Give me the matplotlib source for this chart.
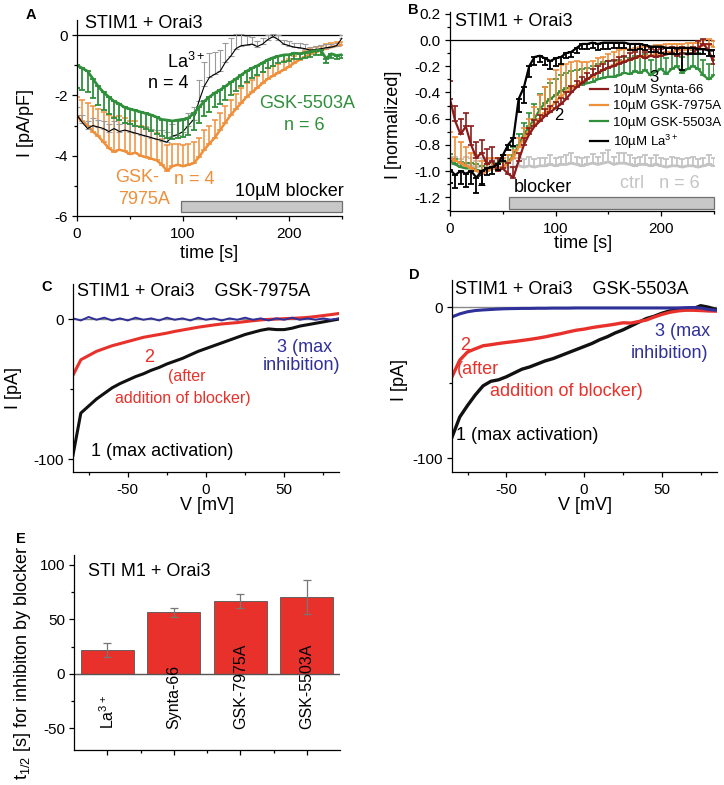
import matplotlib
matplotlib.use('Agg')
import matplotlib.pyplot as plt
from matplotlib.patches import Rectangle
from matplotlib.transforms import Affine2D
from matplotlib.ticker import MultipleLocator

plt.rcParams['font.family'] = ['Liberation Sans', 'DejaVu Sans']
plt.rcParams['mathtext.default'] = 'regular'
plt.rcParams['axes.unicode_minus'] = False

# ---------------- data ----------------
# Panel A : time course (pA/pF), 5 s sampling
time_A = list(range(0, 255, 5))
gsk5503_A = [-1.0, -1.1, -1.2, -1.45, -1.7, -1.9, -2.05, -2.2, -2.28, -2.4,
             -2.45, -2.5, -2.55, -2.6, -2.65, -2.72, -2.8, -2.82, -2.85, -2.82,
             -2.8, -2.75, -2.6, -2.4, -2.2, -2.05, -1.92, -1.82, -1.7, -1.57,
             -1.45, -1.32, -1.2, -1.1, -1.02, -0.92, -0.82, -0.75, -0.7, -0.66,
             -0.65, -0.6, -0.62, -0.58, -0.56, -0.52, -0.5, -0.78, -0.62, -0.68,
             -0.65]
gsk5503_A_err = [0.75, 0.72, 0.7, 0.65, 0.62, 0.6, 0.58, 0.55, 0.55, 0.52,
                 0.5, 0.5, 0.5, 0.5, 0.52, 0.55, 0.55, 0.58, 0.6, 0.6,
                 0.58, 0.55, 0.55, 0.52, 0.5, 0.5, 0.48, 0.46, 0.44, 0.42,
                 0.4, 0.38, 0.36, 0.34, 0.32, 0.3, 0.28, 0.26, 0.24, 0.22,
                 0.2, 0.2, 0.18, 0.18, 0.16, 0.15, 0.15, 0.14, 0.13, 0.12,
                 0.12]
gsk7975_A = [-2.7, -2.85, -3.0, -3.2, -3.35, -3.55, -3.75, -3.87, -3.8, -3.85,
             -3.95, -3.9, -4.0, -4.05, -4.1, -4.15, -4.3, -4.5, -4.35, -4.3,
             -4.35, -4.3, -4.25, -4.05, -3.8, -3.6, -3.4, -3.15, -2.9, -2.65,
             -2.45, -2.25, -2.05, -1.9, -1.75, -1.6, -1.45, -1.35, -1.25, -1.15,
             -1.05, -0.92, -0.82, -0.72, -0.63, -0.56, -0.5, -0.45, -0.4, -0.36,
             -0.34]
gsk7975_A_err = [0.65, 0.7, 0.75, 0.85, 0.9, 1.0, 1.1, 1.15, 1.1, 1.1,
                 1.1, 1.05, 1.0, 1.0, 0.95, 0.9, 0.85, 0.85, 0.75, 0.7,
                 0.7, 0.7, 0.7, 0.65, 0.65, 0.6, 0.6, 0.55, 0.55, 0.5,
                 0.5, 0.48, 0.45, 0.42, 0.4, 0.38, 0.35, 0.32, 0.3, 0.28,
                 0.26, 0.24, 0.22, 0.2, 0.18, 0.16, 0.15, 0.14, 0.13, 0.12,
                 0.12]
la_A = [-2.65, -2.9, -3.1, -3.0, -3.05, -3.1, -3.2, -3.1, -3.2, -3.15,
        -3.2, -3.25, -3.3, -3.35, -3.4, -3.45, -3.5, -3.55, -3.35, -3.3,
        -3.2, -3.0, -2.8, -2.2, -1.7, -1.4, -1.3, -1.2, -0.9, -0.7,
        -0.45, -0.35, -0.33, -0.3, -0.38, -0.3, -0.15, -0.05, -0.15, -0.3,
        -0.35, -0.4, -0.42, -0.45, -0.5, -0.48, -0.45, -0.42, -0.4, -0.35,
        -0.1]
la_A_err = [0.25, 0.25, 0.25, 0.25, 0.25, 0.25, 0.25, 0.25, 0.25, 0.25,
            0.25, 0.25, 0.3, 0.3, 0.3, 0.3, 0.35, 0.35, 0.4, 0.45,
            0.45, 0.4, 0.4, 0.7, 0.8, 0.8, 0.75, 0.7, 0.65, 0.6,
            0.5, 0.4, 0.3, 0.25, 0.2, 0.2, 0.15, 0.1, 0.15, 0.15,
            0.15, 0.15, 0.15, 0.15, 0.12, 0.12, 0.12, 0.12, 0.1, 0.1,
            0.1]
blocker_A = (98, 250)

# Panel B : normalized time course
time_B = list(range(0, 255, 5))
synta_B = [-0.45, -0.62, -0.72, -0.66, -0.8, -0.9, -0.86, -0.95, -0.92, -1.0,
           -0.98, -1.02, -1.05, -0.92, -0.8, -0.72, -0.66, -0.62, -0.58, -0.55,
           -0.52, -0.49, -0.45, -0.4, -0.36, -0.33, -0.3, -0.27, -0.25, -0.23,
           -0.21, -0.2, -0.18, -0.17, -0.15, -0.14, -0.12, -0.14, -0.12, -0.13,
           -0.12, -0.11, -0.1, -0.12, -0.1, -0.11, -0.1, -0.06, -0.03, -0.08,
           -0.18]
synta_B_err = [0.14, 0.12, 0.12, 0.1, 0.14, 0.12, 0.1, 0.12, 0.1, 0.1,
               0.1, 0.08, 0.08, 0.06, 0.05, 0.05, 0.05, 0.05, 0.05, 0.05,
               0.05, 0.05, 0.05, 0.05, 0.05, 0.05, 0.05, 0.05, 0.05, 0.05,
               0.05, 0.05, 0.05, 0.05, 0.05, 0.05, 0.05, 0.05, 0.05, 0.05,
               0.05, 0.05, 0.05, 0.05, 0.05, 0.05, 0.05, 0.05, 0.04, 0.05,
               0.05]
gsk7975_B = [-0.9, -0.92, -0.94, -0.96, -0.98, -1.0, -1.02, -1.0, -0.98, -0.98,
             -0.97, -0.94, -0.9, -0.82, -0.75, -0.7, -0.65, -0.6, -0.56, -0.52,
             -0.47, -0.43, -0.4, -0.37, -0.34, -0.32, -0.3, -0.28, -0.25, -0.23,
             -0.21, -0.19, -0.17, -0.16, -0.15, -0.14, -0.13, -0.12, -0.12, -0.11,
             -0.1, -0.09, -0.09, -0.08, -0.08, -0.07, -0.07, -0.06, -0.04, -0.03,
             -0.05]
gsk7975_B_err = [0.2, 0.18, 0.16, 0.14, 0.12, 0.12, 0.1, 0.1, 0.08, 0.08,
                 0.07, 0.06, 0.06, 0.07, 0.08, 0.1, 0.14, 0.18, 0.2, 0.22,
                 0.24, 0.24, 0.22, 0.2, 0.18, 0.15, 0.13, 0.12, 0.11, 0.1,
                 0.1, 0.1, 0.09, 0.09, 0.08, 0.08, 0.08, 0.07, 0.07, 0.07,
                 0.06, 0.06, 0.06, 0.05, 0.05, 0.05, 0.05, 0.04, 0.04, 0.04,
                 0.04]
gsk5503_B = [-0.92, -0.95, -0.97, -0.98, -0.98, -0.99, -1.0, -0.99, -0.98, -0.98,
             -0.97, -0.93, -0.88, -0.8, -0.72, -0.66, -0.6, -0.53, -0.48, -0.45,
             -0.42, -0.39, -0.37, -0.36, -0.35, -0.34, -0.33, -0.32, -0.3, -0.29,
             -0.28, -0.28, -0.27, -0.25, -0.26, -0.24, -0.25, -0.23, -0.27, -0.24,
             -0.22, -0.26, -0.22, -0.2, -0.25, -0.22, -0.2, -0.22, -0.27, -0.3,
             -0.27]
gsk5503_B_err = [0.05, 0.04, 0.04, 0.04, 0.04, 0.04, 0.04, 0.04, 0.04, 0.04,
                 0.04, 0.05, 0.06, 0.08, 0.09, 0.1, 0.11, 0.12, 0.12, 0.12,
                 0.12, 0.12, 0.12, 0.12, 0.12, 0.12, 0.12, 0.12, 0.12, 0.12,
                 0.12, 0.12, 0.12, 0.12, 0.12, 0.12, 0.12, 0.12, 0.12, 0.12,
                 0.12, 0.12, 0.12, 0.12, 0.12, 0.12, 0.12, 0.12, 0.12, 0.12,
                 0.12]
la_B = [-0.99, -1.03, -1.0, -1.02, -1.0, -1.05, -1.0, -0.98, -0.97, -0.95,
        -0.88, -0.8, -0.75, -0.45, -0.36, -0.2, -0.13, -0.12, -0.14, -0.16,
        -0.14, -0.13, -0.1, -0.09, -0.06, -0.03, -0.03, -0.02, -0.03, -0.02,
        -0.02, -0.02, -0.02, -0.02, -0.03, -0.03, -0.03, -0.04, -0.05, -0.05,
        -0.05, -0.06, -0.06, -0.06, -0.06, -0.06, -0.06, -0.07, -0.07, -0.08,
        -0.08]
la_B_err = [0.1, 0.1, 0.1, 0.1, 0.1, 0.12, 0.1, 0.05, 0.05, 0.04,
            0.04, 0.04, 0.06, 0.1, 0.12, 0.08, 0.06, 0.05, 0.05, 0.06,
            0.06, 0.05, 0.04, 0.04, 0.04, 0.04, 0.04, 0.04, 0.05, 0.05,
            0.05, 0.04, 0.04, 0.04, 0.05, 0.05, 0.04, 0.04, 0.04, 0.04,
            0.05, 0.05, 0.05, 0.05, 0.17, 0.05, 0.05, 0.04, 0.04, 0.04,
            0.04]
ctrl_B = [-0.94, -0.95, -0.96, -0.95, -0.96, -0.97, -0.96, -0.97, -0.96, -0.97,
          -0.97, -0.97, -0.97, -0.96, -0.97, -0.96, -0.97, -0.96, -0.96, -0.95,
          -0.96, -0.95, -0.95, -0.94, -0.95, -0.96, -0.95, -0.94, -0.95, -0.94,
          -0.93, -0.95, -0.94, -0.94, -0.95, -0.96, -0.95, -0.95, -0.96, -0.95,
          -0.96, -0.97, -0.96, -0.96, -0.97, -0.96, -0.96, -0.97, -0.96, -0.95,
          -0.96]
ctrl_B_err = [0.05, 0.06, 0.05, 0.06, 0.06, 0.05, 0.06, 0.06, 0.05, 0.06,
              0.06, 0.05, 0.06, 0.06, 0.06, 0.07, 0.06, 0.06, 0.06, 0.07,
              0.06, 0.06, 0.07, 0.08, 0.06, 0.06, 0.06, 0.07, 0.06, 0.08,
              0.09, 0.06, 0.08, 0.08, 0.07, 0.06, 0.06, 0.07, 0.06, 0.07,
              0.06, 0.06, 0.07, 0.06, 0.06, 0.06, 0.07, 0.06, 0.06, 0.07,
              0.06]
blocker_B = (56, 250)

# Panels C, D : I-V curves (pA), 5 mV steps
voltage = list(range(-85, 90, 5))
C_max_act = [-97, -67, -62, -57, -53, -49, -46, -43.5, -41, -39,
             -36.5, -34.5, -32, -30, -28, -25.5, -23, -21, -19, -17,
             -15, -13, -11, -9.5, -8, -7, -7.5, -7.5, -6.5, -5,
             -4, -3, -2, -1, 0]
C_after = [-40, -29, -26, -23, -21, -19, -17.5, -16, -14.5, -13,
           -12, -11, -10, -8.8, -7.8, -6.8, -5.8, -5, -4.2, -3.5,
           -3, -2.5, -1.8, -1.2, -0.6, -0.2, 0, 0.3, 0.5, 0.8,
           1.2, 1.8, 2.5, 3.2, 4]
C_max_inh = [0.5, -1, 1.5, -0.5, 1, -1, 0.5, -1, 1, -0.5,
             0.5, -1, 1, -0.5, 0.5, -1, 1, -0.5, 0.5, -1,
             0.5, -0.5, 1, -0.5, 0.5, -1, 0.5, -0.5, 1, -0.5,
             0.5, -0.5, 0.5, -0.5, 0.5]
D_max_act = [-86, -72.6, -65, -58, -52, -49, -48, -46, -43.5, -41,
             -39.5, -37.5, -35.5, -34, -32, -30, -28, -26, -24, -21.5,
             -19.5, -17, -15, -12.5, -10, -7.5, -6, -4, -2.5, -2,
             -1.5, -1, 1, 0, -1.5]
D_after = [-46, -35, -29.6, -27.5, -25.5, -24.8, -24, -23.3, -22.7, -22,
           -21.3, -20.5, -19.6, -18.5, -17.5, -16.3, -15.2, -14.5, -13.5, -12.7,
           -12, -11.2, -10.3, -10.5, -9.5, -8.5, -6.5, -4.8, -3.4, -2.5,
           -2, -2, -2.2, -2.5, -2.6]
D_max_inh = [-6.4, -4.4, -3, -2.2, -1.8, -1.5, -1.2, -1, -0.9, -0.8,
             -0.8, -0.7, -0.7, -0.6, -0.6, -0.6, -0.5, -0.5, -0.5, -0.5,
             -0.5, -0.5, -0.5, -0.5, -0.5, -0.5, -0.5, -0.5, -0.5, -0.5,
             -0.3, -0.2, -0.5, -1.5, -2]

# Panel E : t1/2 bar chart
E_labels = ['La$^{3+}$', 'Synta-66', 'GSK-7975A', 'GSK-5503A']
E_values = [21.5, 56.5, 67, 70.5]
E_errors = [6.5, 4, 6.5, 16]

# ---------------- colours ----------------
GREEN = '#2f8f3b'
ORANGE = '#ef8f3a'
DARKRED = '#8c1c1c'
LGRAY = '#c4c4c4'
RED = '#e8312a'
BLUE = '#30309a'

# ---------------- figure ----------------
W, H = 724, 785
fig = plt.figure(figsize=(W / 100, H / 100), dpi=100)
pix = Affine2D().scale(1 / W, -1 / H).translate(0, 1) + fig.transFigure


def axes_px(l, t, r, b):
    return fig.add_axes([l / W, 1 - b / H, (r - l) / W, (b - t) / H])


def txt(x, y, s, size=13, color='black', ha='left', va='center', **kw):
    fig.text(x, y, s, transform=pix, fontsize=size, color=color, ha=ha, va=va, **kw)


def style(ax):
    for s in ['top', 'right']:
        ax.spines[s].set_visible(False)
    for s in ['left', 'bottom']:
        ax.spines[s].set_linewidth(0.9)
    ax.tick_params(which='both', direction='out', labelsize=11, width=0.9)
    ax.tick_params(which='major', length=3.5, pad=3)
    ax.tick_params(which='minor', length=2)
    ax.tick_params(axis='x', which='major', pad=4.5)


def ebar(ax, x, y, err, color, up=True, lw=1.0, cap=2.3):
    zeros = [0] * len(err)
    yerr = [zeros, err] if up else [err, zeros]
    ax.errorbar(x, y, yerr=yerr, fmt='none', ecolor=color, elinewidth=lw,
                capsize=cap, capthick=lw)


# ---------- Panel A ----------
axA = axes_px(77, 20, 342, 216)
style(axA)
axA.set_xlim(0, 250)
axA.set_ylim(-6, 0.5)
axA.xaxis.set_major_locator(MultipleLocator(100))
axA.xaxis.set_minor_locator(MultipleLocator(50))
axA.yaxis.set_major_locator(MultipleLocator(2))
axA.yaxis.set_minor_locator(MultipleLocator(1))
axA.axhline(0, color='black', lw=0.9)
ebar(axA, time_A, gsk7975_A, gsk7975_A_err, ORANGE, up=True, lw=1.1)
axA.plot(time_A, gsk7975_A, color=ORANGE, lw=1.8)
ebar(axA, time_A, la_A, la_A_err, '#9a9a9a', up=True, lw=0.8)
axA.plot(time_A, la_A, color='black', lw=0.8)
ebar(axA, time_A, gsk5503_A, gsk5503_A_err, GREEN, up=False, lw=1.3)
axA.plot(time_A, gsk5503_A, color=GREEN, lw=2.0)
axA.add_patch(Rectangle((blocker_A[0], -5.87), blocker_A[1] - blocker_A[0], 0.37,
                        facecolor='#c8c8c8', edgecolor='#707070', lw=0.9, clip_on=False))

txt(26, 15, 'A', size=10.5, weight='bold')
txt(85, 23, 'STIM1 + Orai3')
txt(167, 68, 'La$^{3+}$', va='baseline')
txt(168, 84, 'n = 4', ha='center')
txt(307, 103, 'GSK-5503A', color=GREEN, ha='center')
txt(304, 125, 'n = 6', color=GREEN, ha='center')
txt(115, 178, 'GSK-', color=ORANGE)
txt(118, 200, '7975A', color=ORANGE)
txt(194, 180, 'n = 4', color=ORANGE, ha='center')
txt(289, 191, '10µM blocker', ha='center')
txt(25, 123, 'I [pA/pF]', rotation=90, ha='center')
txt(209, 254, 'time [s]', ha='center')

# ---------- Panel B ----------
axB = axes_px(450, 12.5, 714, 211)
style(axB)
axB.set_xlim(0, 250)
axB.set_ylim(-1.305, 0.21)
axB.xaxis.set_major_locator(MultipleLocator(100))
axB.xaxis.set_minor_locator(MultipleLocator(50))
axB.yaxis.set_major_locator(MultipleLocator(0.2))
axB.yaxis.set_minor_locator(MultipleLocator(0.1))
axB.yaxis.set_major_formatter(plt.FormatStrFormatter('%.1f'))
axB.axhline(0, color='black', lw=0.9)
ebar(axB, time_B, ctrl_B, ctrl_B_err, LGRAY, up=True, lw=1.3)
axB.plot(time_B, ctrl_B, color=LGRAY, lw=2.0)
ebar(axB, time_B, gsk5503_B, gsk5503_B_err, GREEN, up=True, lw=1.2)
lg, = axB.plot(time_B, gsk5503_B, color=GREEN, lw=1.6, label='10µM GSK-5503A')
ebar(axB, time_B, gsk7975_B, gsk7975_B_err, ORANGE, up=True, lw=1.2)
lo, = axB.plot(time_B, gsk7975_B, color=ORANGE, lw=1.6, label='10µM GSK-7975A')
ebar(axB, time_B, synta_B, synta_B_err, DARKRED, up=True, lw=1.2)
lr, = axB.plot(time_B, synta_B, color=DARKRED, lw=1.6, label='10µM Synta-66')
ebar(axB, time_B, la_B, la_B_err, 'black', up=False, lw=1.3)
lk, = axB.plot(time_B, la_B, color='black', lw=1.6, label='10µM La$^{3+}$')
axB.add_patch(Rectangle((blocker_B[0], -1.29), blocker_B[1] - blocker_B[0], 0.09,
                        facecolor='#c8c8c8', edgecolor='#707070', lw=0.9, clip_on=False))
axB.legend(handles=[lr, lo, lg, lk], loc='upper left', bbox_to_anchor=(0.53, 0.64),
           frameon=False, fontsize=9.5, borderpad=0, borderaxespad=0,
           handlelength=1.4, handletextpad=0.35, labelspacing=0.3)

txt(408, 10, 'B', size=10.5, weight='bold')
txt(455, 22, 'STIM1 + Orai3')
txt(514, 187, 'blocker')
txt(660, 184, 'ctrl   n = 6', color=LGRAY, ha='center')
txt(481, 181, '1', size=12, ha='center')
txt(559, 115, '2', size=12, ha='center')
txt(654, 78, '3', size=12, ha='center')
txt(393, 125, 'I [normalized]', rotation=90, ha='center')
txt(583, 243, 'time [s]', ha='center')

# ---------- Panel C ----------
axC = axes_px(73, 284, 339, 472)
style(axC)
axC.set_xlim(-85, 85)
axC.set_ylim(-109, 25)
axC.xaxis.set_major_locator(MultipleLocator(50))
axC.xaxis.set_minor_locator(MultipleLocator(25))
axC.yaxis.set_major_locator(MultipleLocator(100))
axC.yaxis.set_minor_locator(MultipleLocator(50))
axC.axhline(0, color='#888888', lw=1.0)
axC.plot(voltage, C_max_act, color='#111111', lw=2.2)
axC.plot(voltage, C_after, color=RED, lw=2.2)
axC.plot(voltage, C_max_inh, color=BLUE, lw=1.4)

txt(41, 287, 'C', size=10.5, weight='bold')
txt(77, 292, 'STIM1 + Orai3    GSK-7975A')
txt(149, 357, '2', color=RED, ha='center')
txt(187, 376, '(after', color=RED, ha='center', size=11.5)
txt(183, 398, 'addition of blocker)', color=RED, ha='center', size=11.5)
txt(305, 348, '3 (max', color=BLUE, ha='center')
txt(301, 365, 'inhibition)', color=BLUE, ha='center')
txt(162, 452, '1 (max activation)', ha='center')
txt(13, 388, 'I [pA]', rotation=90, ha='center')
txt(207, 506, 'V [mV]', ha='center')

# ---------- Panel D ----------
axD = axes_px(452, 280, 717, 472)
style(axD)
axD.set_xlim(-85, 85.5)
axD.set_ylim(-109, 18)
axD.xaxis.set_major_locator(MultipleLocator(50))
axD.xaxis.set_minor_locator(MultipleLocator(25))
axD.yaxis.set_major_locator(MultipleLocator(100))
axD.yaxis.set_minor_locator(MultipleLocator(50))
axD.axhline(0, color='#888888', lw=1.0)
axD.plot(voltage, D_max_act, color='#111111', lw=2.4)
axD.plot(voltage, D_after, color=RED, lw=2.4)
axD.plot(voltage, D_max_inh, color=BLUE, lw=2.2)

txt(409, 275, 'D', size=10.5, weight='bold')
txt(455, 289, 'STIM1 + Orai3    GSK-5503A')
txt(465, 345, '2', color=RED, ha='center')
txt(478, 370, '(after', color=RED, ha='center')
txt(566, 392, 'addition of blocker)', color=RED, ha='center')
txt(683, 332, '3 (max', color=BLUE, ha='center')
txt(669, 354, 'inhibition)', color=BLUE, ha='center')
txt(527, 435, '1 (max activation)', ha='center')
txt(400, 380, 'I [pA]', rotation=90, ha='center')
txt(585, 506, 'V [mV]', ha='center')

# ---------- Panel E ----------
axE = axes_px(74, 555, 340, 750)
style(axE)
pos = [1, 2, 3, 4]
axE.set_xlim(0.5, 4.5)
axE.set_ylim(-70, 109)
axE.bar(pos, E_values, width=0.8, color=RED, edgecolor='#555555', linewidth=0.6,
        yerr=E_errors, error_kw=dict(ecolor='#777777', elinewidth=0.9, capsize=3, capthick=0.9))
axE.axhline(0, color='#555555', lw=1.0)
axE.set_xticks(pos)
axE.set_xticklabels([])
axE.set_xticks([1.5, 2.5, 3.5], minor=True)
axE.yaxis.set_major_locator(MultipleLocator(50))
axE.yaxis.set_minor_locator(MultipleLocator(25))
for p, lab in zip(pos, E_labels):
    axE.text(p, -51, lab, rotation=90, ha='center', va='bottom', fontsize=11.5)

txt(16, 539, 'E', size=10.5, weight='bold')
txt(88, 572, 'STI M1 + Orai3')
txt(23, 663, 't$_{1/2}$ [s] for inhibiton by blocker', rotation=90, ha='center')

fig.savefig('out.png', dpi=100)
